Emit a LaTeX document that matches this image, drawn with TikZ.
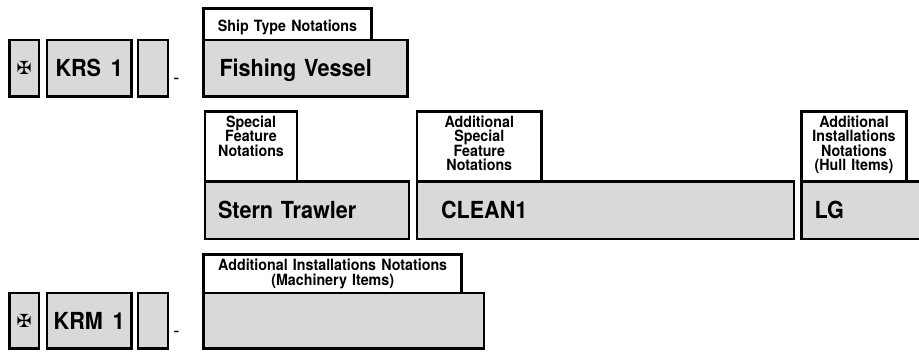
\documentclass[tikz,border=0pt]{standalone}
\usepackage{fontspec}
\setmainfont{TeX Gyre Heros}[FakeStretch=0.92,WordSpace=1.6]
\newfontfamily\crossfont{DejaVu Sans}
\usetikzlibrary{positioning}
\definecolor{boxgray}{RGB}{217,217,217}

\begin{document}
\begin{tikzpicture}[x=1pt,y=-1pt,%
  every node/.style={outer sep=0pt,inner sep=0pt},
  box/.style={draw,line width=2.6pt,fill=boxgray,
    font={\bfseries\fontsize{23.5}{23.5}\selectfont}},
  crossbox/.style={box,minimum width=29.7pt,font={\crossfont\fontsize{18}{18}\selectfont}},
  code/.style={box,text height=16.9pt,text depth=0pt},
  notebox/.style 2 args={box,text width=#1,inner xsep=#2,align=left,
    text height=16.9pt,text depth=0pt},
  tag/.style n args={3}{draw,line width=2.6pt,fill=white,text width=#1,
    text height=#2,text depth=#3,align=center,
    font={\bfseries\fontsize{15.5}{14.3}\selectfont\lineskiplimit=-100pt}},
  hyph/.style={anchor=base,font={\mdseries\fontsize{20}{20}\selectfont}}]
  \useasboundingbox (0,0) rectangle (919,351);
  % KRS row
  \node[crossbox,minimum height=56.5pt,anchor=north west] (krsmark) at (9.3,40) {✠};
  \node[code,minimum width=84.3pt,minimum height=56.5pt,right=8pt of krsmark] (krs) {KRS 1};
  \node[box,minimum width=30pt,minimum height=56.5pt,right=6.7pt of krs] (krsbox) {};
  \node[hyph] (krsdash) at (176.5,84) {-};
  \node[notebox={172pt}{16pt},minimum height=56.5pt,anchor=north west] (fish) at (203.5,40) {Fishing Vessel};
  \node[tag={168pt}{22.5pt}{9pt},above right=0pt and 0pt of fish.north west] (shiptag) {Ship Type Notations};
  % notations row
  \node[notebox={178pt}{13pt},minimum height=57.5pt,anchor=north west] (stern) at (205,181.5) {Stern Trawler};
  \node[notebox={329pt}{24pt},minimum height=57.5pt,right=8pt of stern] (clean) {CLEAN1};
  \node[notebox={97.5pt}{13pt},minimum height=57.5pt,right=7.5pt of clean] (lg) {LG};
  \node[tag={92pt}{16pt}{54pt},above right=0pt and 0pt of stern.north west] (spectag) {Special\\Feature\\Notations};
  \node[tag={124.5pt}{16pt}{54pt},above right=0pt and 0pt of clean.north west] (addtag) {Additional\\Special\\Feature\\Notations};
  \node[tag={105pt}{16pt}{54pt},above right=0pt and 0pt of lg.north west] (hulltag) {Additional\\Installations\\Notations\\(Hull Items)};
  % KRM row
  \node[crossbox,minimum height=55.3pt,anchor=north west] (krmmark) at (9.3,293) {✠};
  \node[code,minimum width=84.3pt,minimum height=55.3pt,right=8pt of krmmark] (krm) {KRM 1};
  \node[box,minimum width=30pt,minimum height=55.3pt,right=6.7pt of krm] (krmbox) {};
  \node[hyph] (krmdash) at (176.5,337) {-};
  \node[box,minimum width=280.3pt,minimum height=55.3pt,anchor=north west] (mach) at (203.7,293) {};
  \node[tag={258pt}{16pt}{22.3pt},above right=0pt and 0pt of mach.north west] (machtag) {Additional Installations Notations\\(Machinery Items)};
\end{tikzpicture}
\end{document}
